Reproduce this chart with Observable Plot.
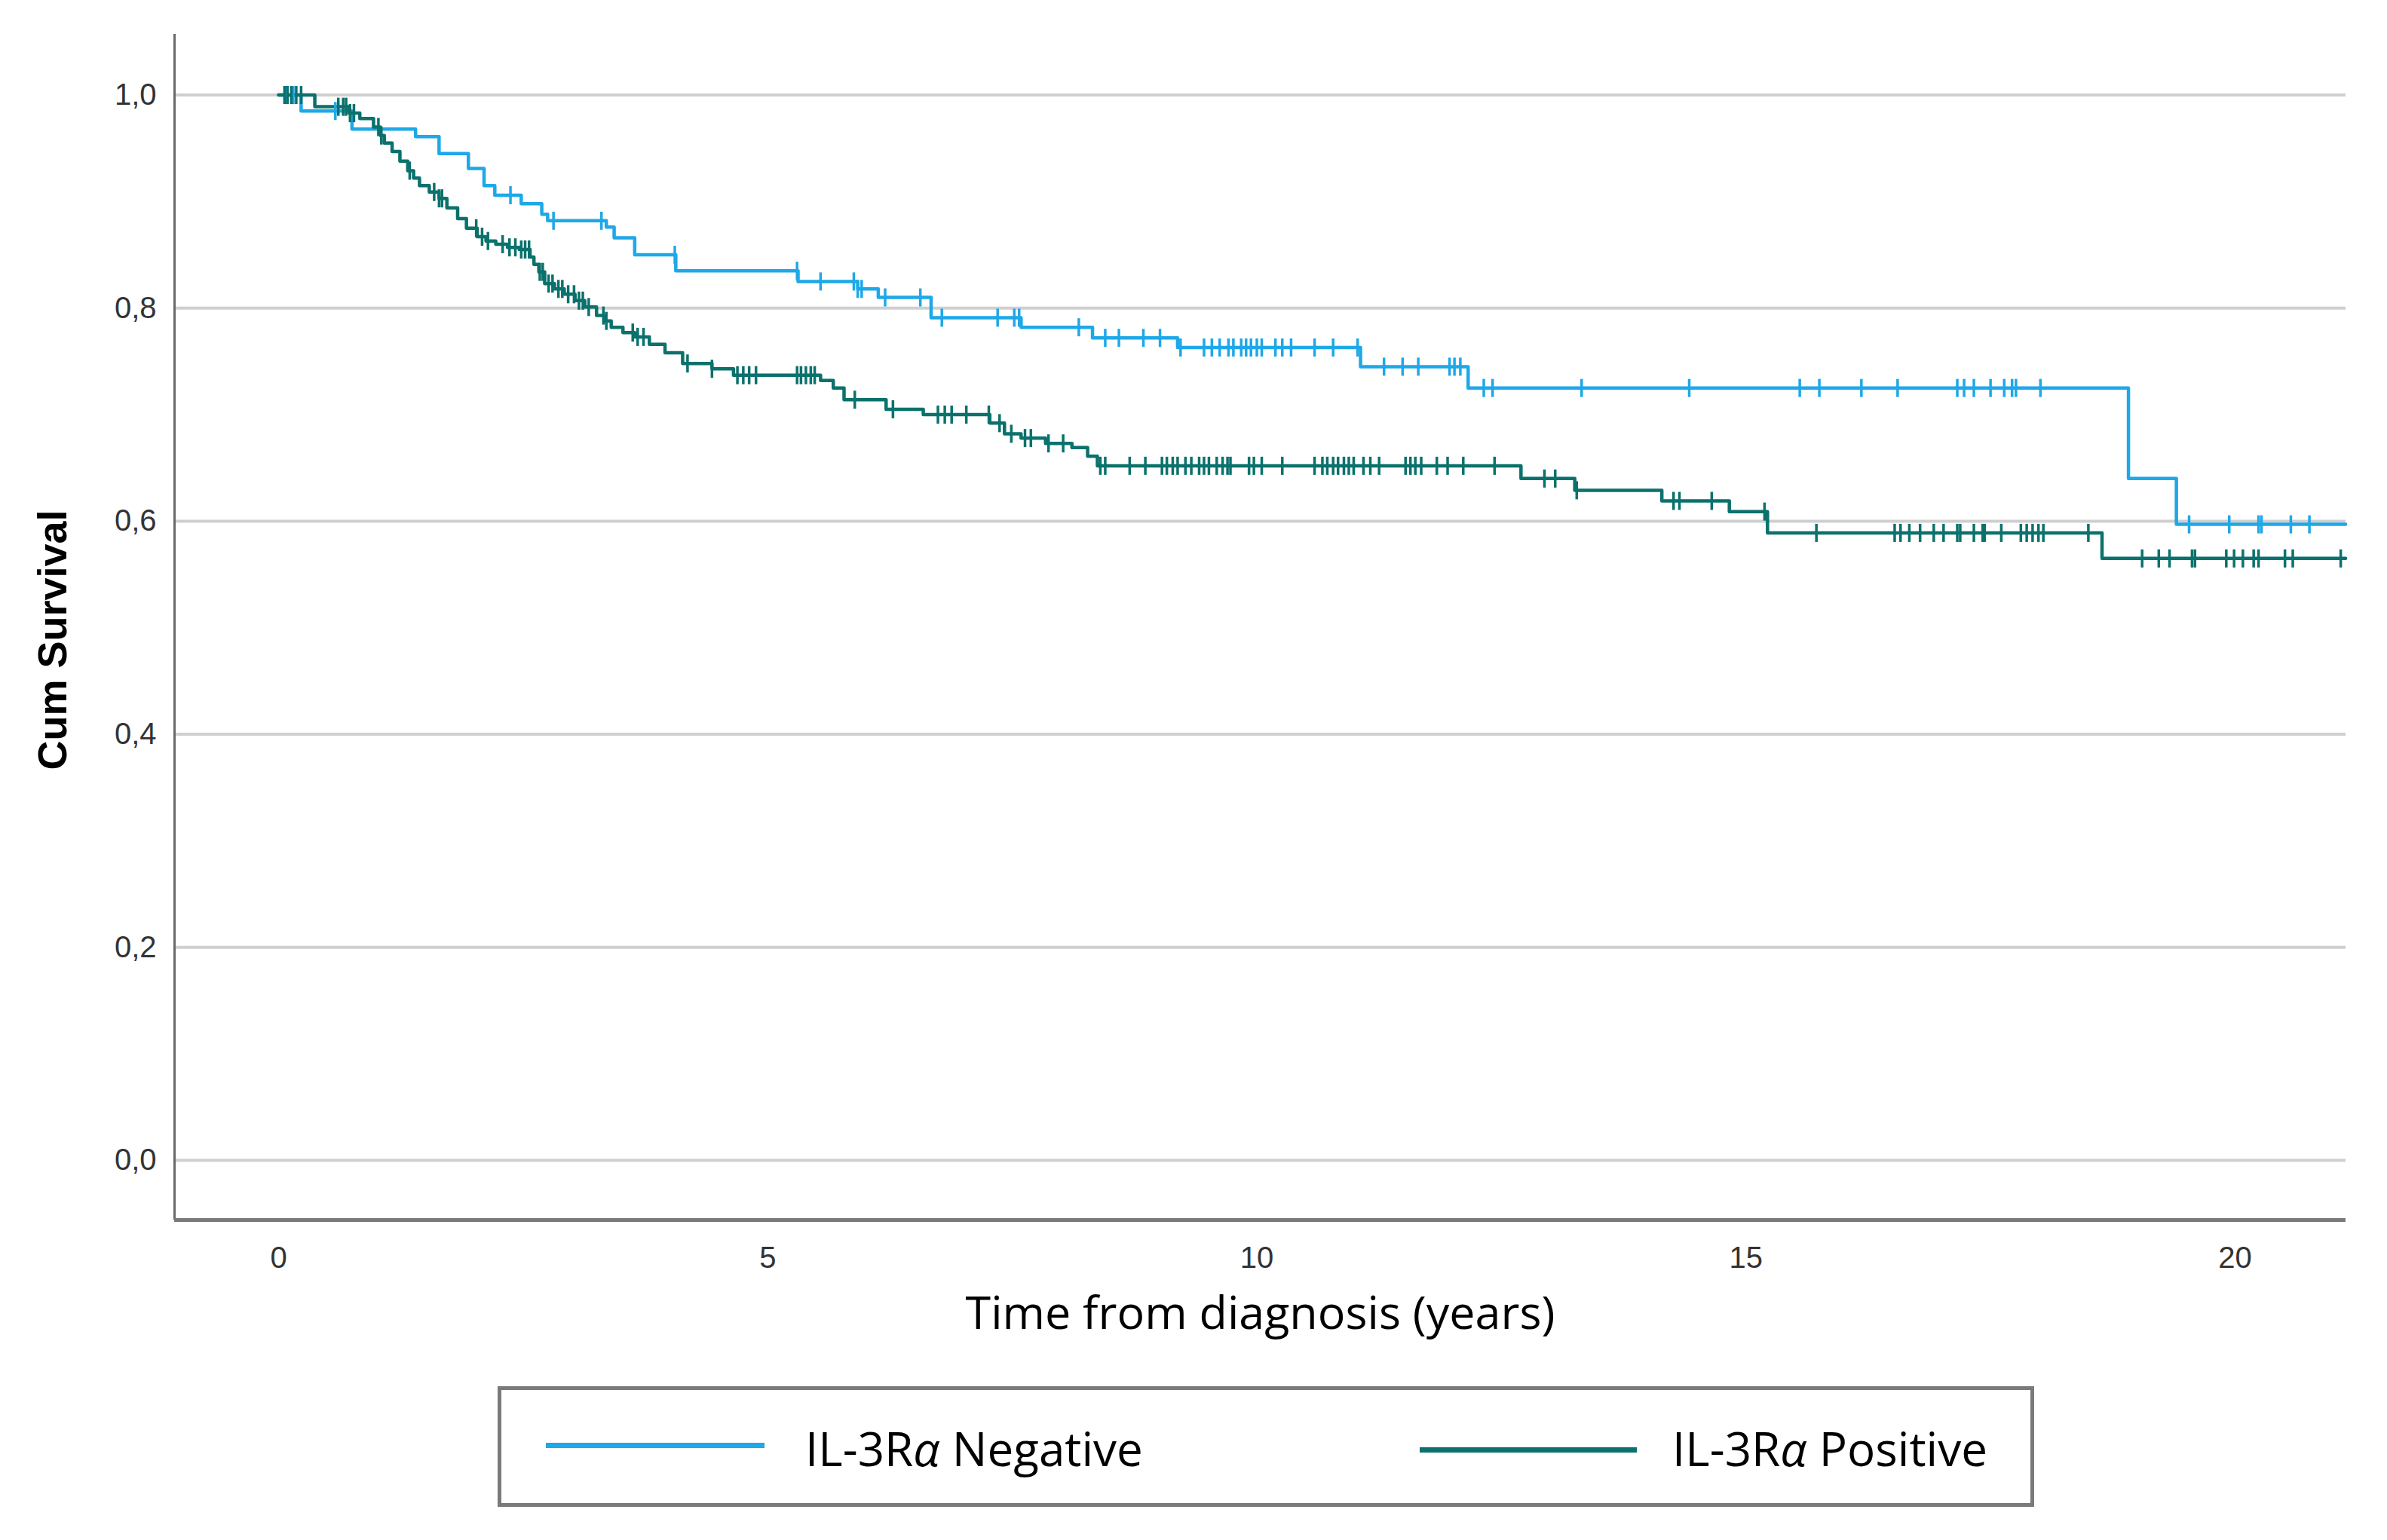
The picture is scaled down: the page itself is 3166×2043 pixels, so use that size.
<!DOCTYPE html>
<html>
<head>
<meta charset="utf-8">
<script src="https://cdn.jsdelivr.net/npm/d3@7"></script>
<script src="https://cdn.jsdelivr.net/npm/@observablehq/plot@0.6"></script>
<style>
  html, body { margin: 0; padding: 0; background: #fff; }
  #chart svg { display: block; }
  #legend {
    position: relative; box-sizing: border-box;
    margin-left: 660px; margin-top: 39px;
    width: 2038px; height: 160px;
    border: 5px solid #7a7a7a;
    font-family: "Open Sans", sans-serif; font-size: 62px; color: #000;
  }
  #legend .ln { position: absolute; height: 7px; }
  #legend .tx { position: absolute; line-height: 62px; white-space: nowrap; }
</style>
</head>
<body>
<div id="chart"></div>
<div id="legend"></div>
<script>
// ---------------- data ----------------
const seriesNames = ["IL-3R\u03b1 Negative", "IL-3R\u03b1 Positive"];
const seriesColors = ["#1ea8e8", "#0b716c"];

// IL-3Rα Negative: event times (years) and survival after each step
const negTimes = [0, 0.23, 0.75, 1.40, 1.64, 1.94, 2.10, 2.21, 2.48, 2.69, 2.75, 3.35, 3.43, 3.64, 4.06, 5.31, 5.92, 6.13, 6.67, 7.59, 8.32, 9.19, 11.06, 12.16, 18.91, 19.40];
const negSurv  = [1.0, 0.985, 0.968, 0.961, 0.945, 0.931, 0.915, 0.906, 0.898, 0.888, 0.882, 0.876, 0.866, 0.850, 0.835, 0.825, 0.818, 0.810, 0.791, 0.782, 0.772, 0.763, 0.745, 0.725, 0.640, 0.597];
const negEnd = 21.13;
const negCensor = [0.08, 0.15, 0.58, 2.37, 2.81, 3.30, 4.05, 5.30, 5.54, 5.88, 5.92, 5.96, 6.20, 6.56, 6.78, 7.35, 7.52, 7.57, 8.18, 8.45, 8.59, 8.84, 9.01, 9.22, 9.46, 9.54, 9.62, 9.71, 9.76, 9.84, 9.89, 9.94, 10.00, 10.05, 10.19, 10.26, 10.35, 10.59, 10.78, 11.03, 11.30, 11.49, 11.65, 11.97, 12.02, 12.08, 12.32, 12.41, 13.32, 14.42, 15.55, 15.75, 16.18, 16.55, 17.16, 17.23, 17.33, 17.50, 17.64, 17.72, 17.76, 18.01, 19.53, 19.94, 20.24, 20.27, 20.57, 20.76];

// IL-3Rα Positive
const posTimes = [0, 0.37, 0.72, 0.83, 0.97, 1.04, 1.08, 1.16, 1.24, 1.32, 1.38, 1.44, 1.54, 1.64, 1.72, 1.83, 1.92, 2.03, 2.12, 2.22, 2.34, 2.46, 2.57, 2.61, 2.66, 2.72, 2.82, 2.92, 3.03, 3.13, 3.25, 3.33, 3.40, 3.52, 3.64, 3.79, 3.95, 4.13, 4.43, 4.65, 5.54, 5.67, 5.78, 6.21, 6.59, 7.27, 7.42, 7.59, 7.84, 8.11, 8.27, 8.37, 12.70, 13.25, 14.14, 14.83, 15.22, 18.64];
const posSurv  = [1.0, 0.989, 0.983, 0.978, 0.970, 0.962, 0.955, 0.947, 0.938, 0.929, 0.922, 0.915, 0.909, 0.903, 0.894, 0.884, 0.875, 0.867, 0.863, 0.860, 0.857, 0.855, 0.848, 0.841, 0.834, 0.823, 0.818, 0.813, 0.807, 0.801, 0.793, 0.788, 0.782, 0.777, 0.773, 0.766, 0.758, 0.748, 0.743, 0.737, 0.732, 0.725, 0.714, 0.705, 0.700, 0.692, 0.682, 0.678, 0.673, 0.669, 0.661, 0.652, 0.640, 0.629, 0.619, 0.609, 0.589, 0.565];
const posEnd = 21.13;
const posCensor = [0.06, 0.09, 0.13, 0.18, 0.23, 0.61, 0.66, 0.69, 0.73, 0.77, 1.02, 1.05, 1.34, 1.59, 1.64, 1.67, 2.02, 2.08, 2.14, 2.29, 2.36, 2.42, 2.48, 2.52, 2.56, 2.67, 2.70, 2.76, 2.80, 2.86, 2.90, 2.96, 3.02, 3.07, 3.11, 3.17, 3.32, 3.35, 3.62, 3.67, 3.73, 4.18, 4.43, 4.69, 4.75, 4.81, 4.88, 5.30, 5.34, 5.39, 5.44, 5.48, 5.89, 6.28, 6.74, 6.81, 6.88, 7.03, 7.26, 7.37, 7.49, 7.63, 7.69, 7.87, 8.02, 8.40, 8.45, 8.70, 8.86, 9.03, 9.08, 9.14, 9.19, 9.27, 9.33, 9.41, 9.46, 9.51, 9.59, 9.65, 9.70, 9.73, 9.92, 9.97, 10.05, 10.26, 10.59, 10.67, 10.72, 10.78, 10.83, 10.89, 10.94, 10.99, 11.09, 11.16, 11.25, 11.52, 11.57, 11.62, 11.68, 11.84, 11.95, 12.11, 12.43, 12.94, 13.05, 13.27, 14.26, 14.32, 14.65, 15.19, 15.72, 16.52, 16.58, 16.67, 16.78, 16.92, 17.02, 17.16, 17.19, 17.33, 17.42, 17.44, 17.61, 17.81, 17.87, 17.93, 17.99, 18.04, 18.50, 19.05, 19.22, 19.33, 19.56, 19.59, 19.91, 19.99, 20.08, 20.19, 20.24, 20.51, 20.59, 21.08];

const xTicks = [0, 5, 10, 15, 20];
const yTicks = [0, 0.2, 0.4, 0.6, 0.8, 1.0];
const xTitle = "Time from diagnosis (years)";
const yTitle = "Cum Survival";

// ---------------- build tables ----------------
function stepRows(times, surv, end, name) {
  const rows = times.map((t, i) => ({t, s: surv[i], g: name}));
  rows.push({t: end, s: surv[surv.length - 1], g: name});
  return rows;
}
function censorRows(times, surv, cens, name) {
  return cens.map(t => {
    const i = Math.max(0, d3.bisectRight(times, t) - 1);
    return {t, s: surv[i], g: name};
  });
}
const lines = [
  ...stepRows(negTimes, negSurv, negEnd, seriesNames[0]),
  ...stepRows(posTimes, posSurv, posEnd, seriesNames[1])
];
const censors = [
  ...censorRows(negTimes, negSurv, negCensor, seriesNames[0]),
  ...censorRows(posTimes, posSurv, posCensor, seriesNames[1])
];

const xDomain = [-1.064, 21.133];
const yDomain = [-0.056, 1.057];

const vTick = {
  draw(ctx, size) {
    const r = Math.sqrt(size / Math.PI);
    ctx.moveTo(0, -r);
    ctx.lineTo(0, r);
  }
};

const chart = Plot.plot({
  width: 3166,
  height: 1800,
  marginLeft: 231,
  marginRight: 55,
  marginTop: 45,
  marginBottom: 182,
  style: {fontFamily: "'Liberation Sans', Arial, sans-serif", fontSize: "40px", color: "#333", background: "#fff"},
  x: {domain: xDomain, ticks: xTicks, tickSize: 0, tickPadding: 35, label: null, tickFormat: d => String(d)},
  y: {domain: yDomain, ticks: yTicks, tickSize: 0, tickPadding: 24, label: null, tickFormat: d => d.toFixed(1).replace(".", ",")},
  color: {domain: seriesNames, range: seriesColors},
  marks: [
    Plot.ruleY(yTicks, {stroke: "#cfcfcf", strokeWidth: 4}),
    Plot.ruleX([xDomain[0]], {stroke: "#6a6a6a", strokeWidth: 3}),
    Plot.ruleY([yDomain[0]], {stroke: "#7a7a7a", strokeWidth: 5}),
    Plot.line(lines, {x: "t", y: "s", z: "g", stroke: "g", curve: "step-after", strokeWidth: 4.5}),
    Plot.dot(censors, {x: "t", y: "s", stroke: "g", symbol: vTick, r: 12, strokeWidth: 3.5, fill: "none"}),
    Plot.text([xTitle], {text: d => d, frameAnchor: "bottom", dy: 144, textAnchor: "middle", fontSize: 61, fontFamily: "'Open Sans', sans-serif", fill: "#000"}),
    Plot.text([yTitle], {text: d => d, frameAnchor: "left", dx: -161, dy: 17, rotate: -90, textAnchor: "middle", fontSize: 54, fontWeight: "bold", fontFamily: "'Liberation Sans', Arial, sans-serif", fill: "#000"})
  ]
});
document.getElementById("chart").appendChild(chart);

// ---------------- legend ----------------
const legend = document.getElementById("legend");
const legendLayout = [
  {lineLeft: 59, lineWidth: 290, lineTop: 70, textLeft: 403},
  {lineLeft: 1218, lineWidth: 288, lineTop: 76, textLeft: 1553}
];
seriesNames.forEach((name, i) => {
  const L = legendLayout[i];
  const ln = document.createElement("div");
  ln.className = "ln";
  ln.style.left = L.lineLeft + "px";
  ln.style.width = L.lineWidth + "px";
  ln.style.top = L.lineTop + "px";
  ln.style.background = seriesColors[i];
  legend.appendChild(ln);
  const tx = document.createElement("div");
  tx.className = "tx";
  tx.style.left = L.textLeft + "px";
  tx.style.top = "46px";
  const parts = name.split("\u03b1");
  tx.append(parts[0]);
  const it = document.createElement("i");
  it.textContent = "\u03b1";
  tx.appendChild(it);
  tx.append(parts[1]);
  legend.appendChild(tx);
});
</script>
</body>
</html>
